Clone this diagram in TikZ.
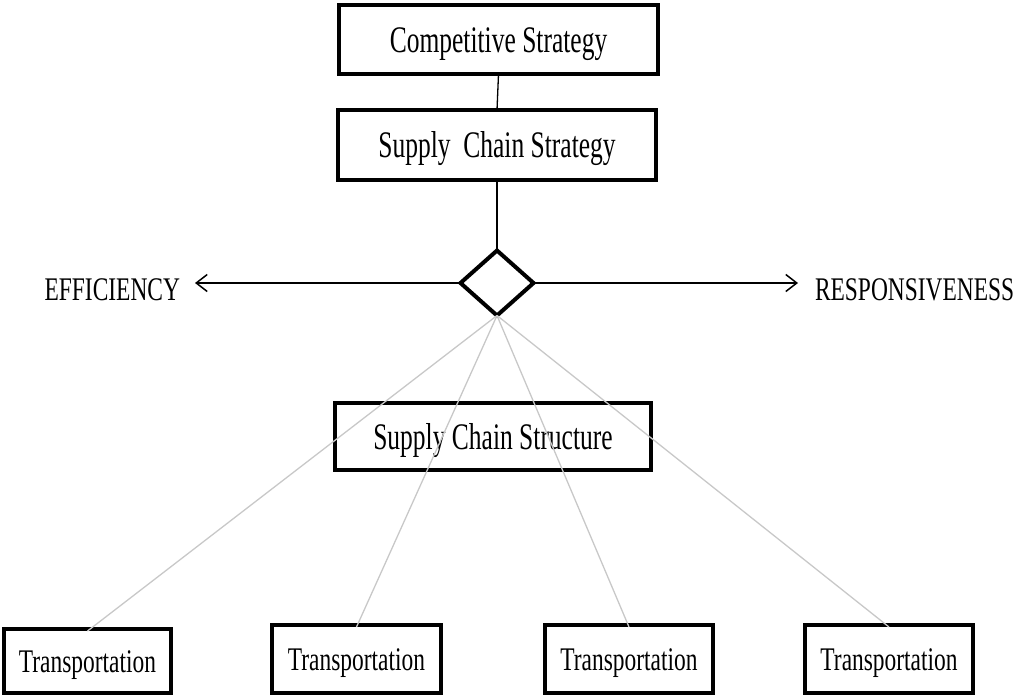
\documentclass[tikz,border=0pt]{standalone}
\usepackage{fontspec}
\setmainfont{Liberation Serif}
\newfontfamily\narrowfont{Liberation Serif}[FakeStretch=0.68]
\newfontfamily\narrowfontb{Liberation Serif}[FakeStretch=0.71]
\usetikzlibrary{shapes.geometric,arrows.meta}
\definecolor{fanline}{RGB}{200,200,200}
\tikzset{
  bigbox/.style={draw=black, line width=4pt, inner sep=0pt, outer sep=0pt,
    font=\narrowfont\fontsize{37.5}{40}\selectfont, text height=25pt, text depth=0pt},
  smallbox/.style={draw=black, line width=4pt, inner sep=0pt, outer sep=0pt,
    minimum width=168pt, minimum height=68pt,
    font=\narrowfontb\fontsize{33}{36}\selectfont, text height=22pt, text depth=0pt},
  sidelabel/.style={inner sep=0pt, outer sep=0pt,
    font=\narrowfontb\fontsize{33}{36}\selectfont, text height=22pt, text depth=0pt},
  hub/.style={draw=black, line width=4pt, diamond, inner sep=0pt, outer sep=0pt,
    minimum width=73pt, minimum height=65pt},
  link/.style={draw=black, line width=1.3pt},
  fan/.style={draw=fanline, line width=1.3pt},
  sidearrow/.style={draw=black, line width=1.5pt,
    -{Straight Barb[length=11pt,width=17pt,line width=1.5pt]}}
}
\begin{document}
\begin{tikzpicture}[x=1pt,y=-1pt]
\useasboundingbox (0,0) rectangle (1017,697);
\node[bigbox, minimum width=319pt, minimum height=69pt] (comp) at (498.5,39.5) {Competitive Strategy};
\node[bigbox, minimum width=318pt, minimum height=70pt] (scs) at (497,145) {Supply\ \ Chain\ Strategy};
\node[hub] (hub) at (497,283) {};
\node[bigbox, minimum width=316pt, minimum height=67pt] (struct) at (493,436.5) {Supply\ Chain\ Structure};
\node[sidelabel, anchor=east] (eff) at (180,289) {EFFICIENCY};
\node[sidelabel, anchor=west] (resp) at (815,289) {RESPONSIVENESS};
\coordinate (effend) at ([xshift=15pt]eff.east |- hub.west);
\coordinate (respend) at ([xshift=-17pt]resp.west |- hub.east);
\node[smallbox, minimum width=167pt, minimum height=64pt] (t1) at (87.5,661) {Transportation};
\node[smallbox, minimum width=169pt] (t2) at (356.5,659) {Transportation};
\node[smallbox] (t3) at (629,659) {Transportation};
\node[smallbox] (t4) at (889,659) {Transportation};
\draw[link] (comp.south) -- (scs.north);
\draw[link] (scs.south) -- (hub.north);
\draw[sidearrow] (hub.west) -- (effend);
\draw[sidearrow] (hub.east) -- (respend);
\foreach \t in {t1,t2,t3,t4}{
  \draw[fan] (hub.south) -- ([yshift=-2pt]\t.north);
}
\end{tikzpicture}
\end{document}
